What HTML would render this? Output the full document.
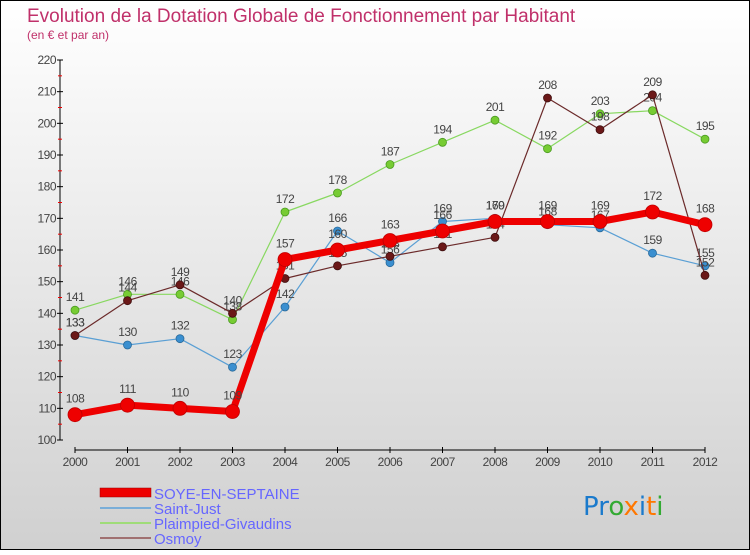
<!DOCTYPE html>
<html><head><meta charset="utf-8"><style>
html,body{margin:0;padding:0;}
body{width:750px;height:550px;overflow:hidden;font-family:"Liberation Sans","DejaVu Sans",sans-serif;}
</style></head><body>
<svg id="chart" width="750" height="550" xmlns="http://www.w3.org/2000/svg">
<defs><linearGradient id="bg" x1="0" y1="0" x2="0" y2="1"><stop offset="0" stop-color="#ffffff"/><stop offset="1" stop-color="#d0d0d0"/></linearGradient></defs>
<rect x="0.5" y="0.5" width="749" height="549" fill="url(#bg)" stroke="#000"/>
<text x="27" y="22" font-size="19" fill="#c0306a">Evolution de la Dotation Globale de Fonctionnement par Habitant</text>
<text x="27" y="39" font-size="12" fill="#c0306a">(en € et par an)</text>
<g id="axes"></g><g id="series"></g>
<g>
<rect x="100" y="488" width="51" height="9" fill="#e00" stroke="#900" stroke-width="0.5"/>
<text x="154" y="499" font-size="15" fill="#6666ff">SOYE-EN-SEPTAINE</text>
<line x1="100" y1="508" x2="151" y2="508" stroke="#7aaed8" stroke-width="2"/>
<text x="154" y="514" font-size="15" fill="#6666ff">Saint-Just</text>
<line x1="100" y1="523" x2="151" y2="523" stroke="#9fdc78" stroke-width="2"/>
<text x="154" y="529" font-size="15" fill="#6666ff">Plaimpied-Givaudins</text>
<line x1="100" y1="538" x2="151" y2="538" stroke="#a07070" stroke-width="2"/>
<text x="154" y="544" font-size="15" fill="#6666ff">Osmoy</text>
</g>
<g font-size="26" font-family="'DejaVu Sans',sans-serif">
<text x="583" y="515"><tspan fill="#1a7acc">Pr</tspan><tspan fill="#33aa33">o</tspan><tspan fill="#ff7700">x</tspan><tspan fill="#1a7acc">i</tspan><tspan fill="#ff7700">t</tspan><tspan fill="#33aa33">i</tspan></text>
</g>
</svg>
<script>
const years=[2000,2001,2002,2003,2004,2005,2006,2007,2008,2009,2010,2011,2012];
const soye=[108,111,110,109,157,160,163,166,169,169,169,172,168];
const saintJust=[133,130,132,123,142,166,156,169,170,168,167,159,155];
const plaimpied=[141,146,146,138,172,178,187,194,201,192,203,204,195];
const osmoy=[133,144,149,140,151,155,158,161,164,208,198,209,152];
const yTicks=[100,110,120,130,140,150,160,170,180,190,200,210,220];
const NS="http://www.w3.org/2000/svg";
const X=i=>75+i*52.5;
const Y=v=>440-(v-100)*(380/120);
function el(t,a,p){const e=document.createElementNS(NS,t);for(const k in a)e.setAttribute(k,a[k]);p.appendChild(e);return e;}
const ax=document.getElementById('axes');
const ya=el('line',{x1:60,y1:Y(220),x2:60,y2:Y(100),stroke:'#000'},ax);


yTicks.forEach((v,i)=>{
  el('line',{x1:57,y1:Y(v),x2:63,y2:Y(v),stroke:'#000'},ax);
  if(i<yTicks.length-1)el('line',{x1:58,y1:Y(v+5),x2:62,y2:Y(v+5),stroke:'#e00'},ax);
  const t=el('text',{x:56,y:Y(v)+4,'font-size':12,fill:'#444','text-anchor':'end','letter-spacing':'-0.5'},ax);
  t.textContent=v;
  
  
});
const xa=el('line',{x1:X(0),y1:450,x2:X(12),y2:450,stroke:'#000'},ax);


years.forEach((y,i)=>{
  el('line',{x1:X(i),y1:447,x2:X(i),y2:453,stroke:'#000'},ax);
  const t=el('text',{x:X(i),y:466,'font-size':12,fill:'#444','text-anchor':'middle','letter-spacing':'-0.5'},ax);
  t.textContent=y;
  
  
});
const sg=document.getElementById('series');
function draw(vals,color,dot,dotStroke,w,r,name){
  const g=el('g',{},sg);
  
  
  const p=el('polyline',{points:vals.map((v,i)=>X(i)+','+Y(v)).join(' '),fill:'none',stroke:color,'stroke-width':w,'stroke-linejoin':'round'},g);
  
  
  vals.forEach((v,i)=>{
    const c=el('circle',{cx:X(i),cy:Y(v),r:r,fill:dot,stroke:dotStroke,'stroke-width':0.8},g);
    
    
    const t=el('text',{x:X(i),y:Y(v)-(r+5),'font-size':12,fill:'#444','text-anchor':'middle','letter-spacing':'-0.5'},g);
    t.textContent=v;
    
    
  });
}
draw(saintJust,'#5a9fd4','#3a8fd0','#2a6a9a',1.2,4,'saint-just');
draw(plaimpied,'#88d860','#77cc33','#4a9a20',1.2,4,'plaimpied');
draw(osmoy,'#6b2a2a','#6b1818','#401010',1.2,4,'osmoy');
draw(soye,'#ee0000','#ee0000','#c00000',7,7,'soye');
</script>
</body></html>
